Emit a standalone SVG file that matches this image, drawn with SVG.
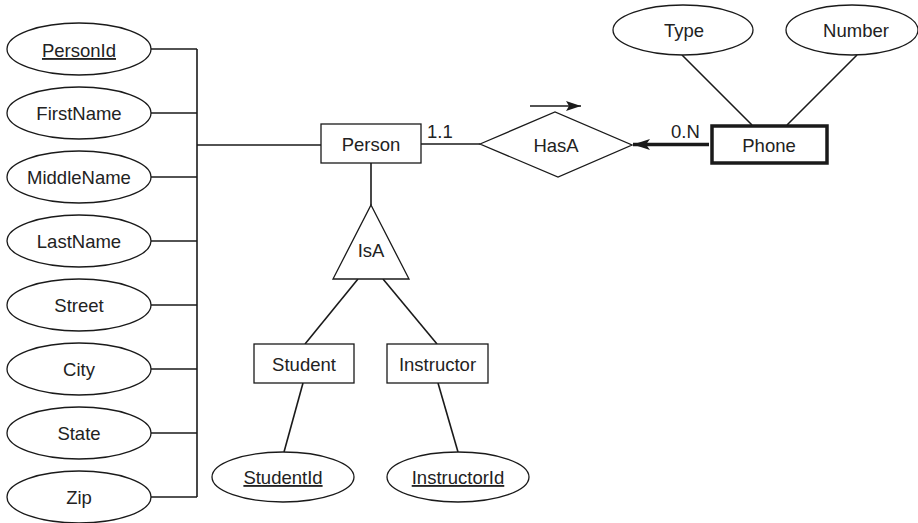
<svg xmlns="http://www.w3.org/2000/svg" width="918" height="523" viewBox="0 0 918 523">
<defs>
<style>
.shape{fill:#fff;stroke:#1a1a1a;stroke-width:1.3}
.thick{fill:#fff;stroke:#1a1a1a;stroke-width:3.5}
.ln{stroke:#1a1a1a;stroke-width:1.6;fill:none}
.tl{font-family:"Liberation Sans",Arial,sans-serif;font-size:18.5px;fill:#222;text-anchor:middle}
.lbl{font-family:"Liberation Sans",Arial,sans-serif;font-size:18.5px;fill:#222}
.u{text-decoration:underline}
</style>
<marker id="ah" viewBox="0 0 15 10" refX="15" refY="5" markerWidth="15" markerHeight="10" markerUnits="userSpaceOnUse" orient="auto">
<path d="M0,0 L15,5 L0,10 L3,5 Z" fill="#1a1a1a"/>
</marker>
<marker id="ah2" viewBox="0 0 17 11" refX="17" refY="5.5" markerWidth="17" markerHeight="11" markerUnits="userSpaceOnUse" orient="auto">
<path d="M0,0 L17,5.5 L0,11 L4,5.5 Z" fill="#1a1a1a"/>
</marker>
</defs>
<rect width="918" height="523" fill="#fff"/>
<g id="connectors">
<line class="ln" x1="197" y1="49" x2="197" y2="497"/>
<line class="ln" x1="151" y1="49" x2="197" y2="49"/>
<line class="ln" x1="151" y1="113" x2="197" y2="113"/>
<line class="ln" x1="151" y1="177" x2="197" y2="177"/>
<line class="ln" x1="151" y1="241" x2="197" y2="241"/>
<line class="ln" x1="151" y1="305" x2="197" y2="305"/>
<line class="ln" x1="151" y1="369" x2="197" y2="369"/>
<line class="ln" x1="151" y1="433" x2="197" y2="433"/>
<line class="ln" x1="151" y1="497" x2="197" y2="497"/>
<line class="ln" x1="197" y1="145" x2="321" y2="145"/>
<line class="ln" x1="421" y1="144" x2="480" y2="144"/>
<line class="ln" x1="709" y1="144.5" x2="633" y2="144.5" style="stroke-width:3.5" marker-end="url(#ah2)"/>
<line class="ln" x1="530" y1="106" x2="581" y2="106" marker-end="url(#ah)"/>
<line class="ln" x1="682" y1="55" x2="752" y2="125"/>
<line class="ln" x1="857" y1="55" x2="787" y2="125"/>
<line class="ln" x1="371" y1="163" x2="371" y2="205"/>
<line class="ln" x1="358" y1="279" x2="305" y2="344"/>
<line class="ln" x1="383" y1="279" x2="437" y2="344"/>
<line class="ln" x1="303" y1="383" x2="284" y2="452"/>
<line class="ln" x1="438" y1="383" x2="458" y2="452"/>
<text class="lbl" x="427" y="138">1.1</text>
<text class="lbl" x="671" y="138">0.N</text>
</g>
<g id="PersonId"><ellipse class="shape" cx="79" cy="49" rx="72" ry="26"/><text class="tl u" x="79" y="57">PersonId</text></g>
<g id="FirstName"><ellipse class="shape" cx="79" cy="113" rx="72" ry="26"/><text class="tl" x="79" y="120">FirstName</text></g>
<g id="MiddleName"><ellipse class="shape" cx="79" cy="177" rx="72" ry="26"/><text class="tl" x="79" y="184">MiddleName</text></g>
<g id="LastName"><ellipse class="shape" cx="79" cy="241" rx="72" ry="26"/><text class="tl" x="79" y="248">LastName</text></g>
<g id="Street"><ellipse class="shape" cx="79" cy="305" rx="72" ry="26"/><text class="tl" x="79" y="312">Street</text></g>
<g id="City"><ellipse class="shape" cx="79" cy="369" rx="72" ry="26"/><text class="tl" x="79" y="376">City</text></g>
<g id="State"><ellipse class="shape" cx="79" cy="433" rx="72" ry="26"/><text class="tl" x="79" y="440">State</text></g>
<g id="Zip"><ellipse class="shape" cx="79" cy="497" rx="72" ry="26"/><text class="tl" x="79" y="504">Zip</text></g>
<g id="Person"><rect class="shape" x="321" y="124" width="100" height="39"/><text class="tl" x="371" y="150.5">Person</text></g>
<g id="HasA"><polygon class="shape" points="480,144 555,112 632,145 558,177"/><text class="tl" x="556" y="151.5">HasA</text></g>
<g id="Phone"><rect class="thick" x="712" y="126" width="115" height="37"/><text class="tl" x="769" y="151.5">Phone</text></g>
<g id="Type"><ellipse class="shape" cx="683" cy="30" rx="70" ry="25"/><text class="tl" x="684" y="37">Type</text></g>
<g id="Number"><ellipse class="shape" cx="852" cy="30" rx="66" ry="25"/><text class="tl" x="856" y="37">Number</text></g>
<g id="IsA"><polygon class="shape" points="371,205 409,279 333,279"/><text class="tl" x="371" y="257">IsA</text></g>
<g id="Student"><rect class="shape" x="254" y="344" width="100" height="39"/><text class="tl" x="304" y="370.5">Student</text></g>
<g id="Instructor"><rect class="shape" x="387" y="344" width="101" height="39"/><text class="tl" x="437.5" y="370.5">Instructor</text></g>
<g id="StudentId"><ellipse class="shape" cx="283" cy="477" rx="71" ry="25"/><text class="tl u" x="283" y="484">StudentId</text></g>
<g id="InstructorId"><ellipse class="shape" cx="458" cy="477" rx="71" ry="25"/><text class="tl u" x="458" y="484">InstructorId</text></g>
</svg>
